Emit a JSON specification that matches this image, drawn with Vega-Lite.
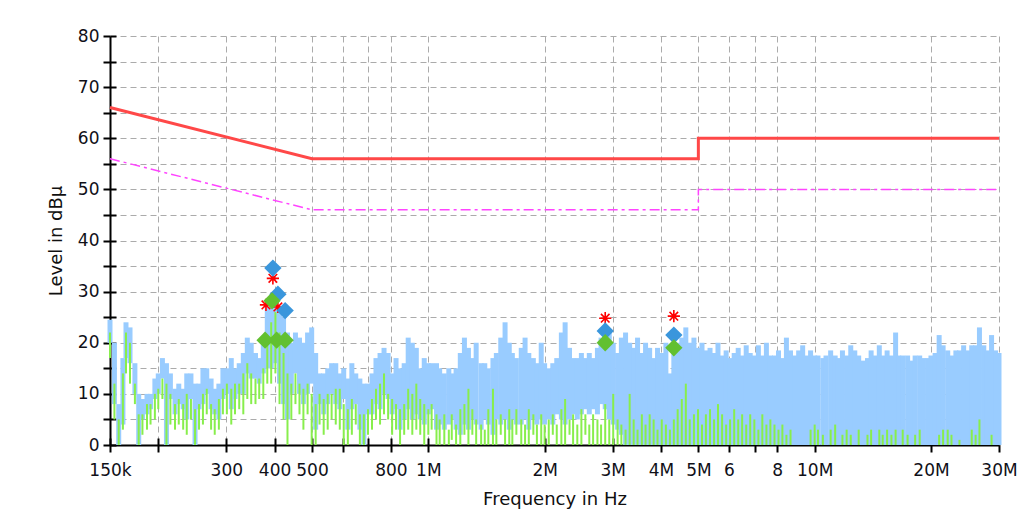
{
  "$schema": "https://vega.github.io/schema/vega-lite/v6.json",
  "autosize": {"type": "none"},
  "width": 889,
  "height": 409,
  "padding": {"left": 110, "top": 36, "right": 32, "bottom": 78},
  "background": "white",
  "config": {
    "view": {"stroke": null},
    "font": "DejaVu Sans",
    "axis": {
      "domainColor": "#000000", "domainWidth": 2,
      "tickColor": "#000000", "tickWidth": 2, "tickSize": 7,
      "gridColor": "#ababab", "gridDash": [6, 4], "gridWidth": 1,
      "labelFont": "DejaVu Sans", "labelFontSize": 17, "labelColor": "#101018",
      "titleFont": "DejaVu Sans", "titleFontSize": 18, "titleFontWeight": "normal", "titleColor": "#101010",
      "labelOverlap": false
    }
  },
  "resolve": {"axis": {"x": "independent", "y": "independent"}},
  "datasets": {
    "spec": [
      {"f":150,"pl":20,"ph":24.5,"al":17,"ah":22},
      {"f":154,"pl":8,"ph":20,"al":5,"ah":12},
      {"f":158,"pl":0,"ph":8,"al":0,"ah":5},
      {"f":162,"pl":4,"ph":17,"al":3,"ah":14},
      {"f":165,"pl":17,"ph":24,"al":14,"ah":22},
      {"f":169,"pl":16,"ph":23,"al":12,"ah":20},
      {"f":174,"pl":10,"ph":16,"al":8,"ah":12},
      {"f":178,"pl":0,"ph":10,"al":0,"ah":6},
      {"f":182,"pl":5,"ph":9,"al":2,"ah":6},
      {"f":187,"pl":6,"ph":10,"al":3,"ah":8},
      {"f":191,"pl":7,"ph":10,"al":4,"ah":8},
      {"f":196,"pl":9,"ph":13,"al":5,"ah":10},
      {"f":200,"pl":10,"ph":14,"al":7,"ah":11},
      {"f":205,"pl":13,"ph":17,"al":9,"ah":13},
      {"f":210,"pl":0,"ph":16,"al":0,"ah":12},
      {"f":215,"pl":9,"ph":14,"al":4,"ah":10},
      {"f":221,"pl":6,"ph":11,"al":3,"ah":8},
      {"f":226,"pl":8,"ph":12,"al":4,"ah":9},
      {"f":232,"pl":7,"ph":11,"al":3,"ah":8},
      {"f":237,"pl":5,"ph":14,"al":2,"ah":10},
      {"f":243,"pl":9,"ph":14,"al":5,"ah":9},
      {"f":249,"pl":0,"ph":12,"al":0,"ah":7},
      {"f":255,"pl":7,"ph":12,"al":3,"ah":8},
      {"f":261,"pl":8,"ph":15,"al":4,"ah":10},
      {"f":267,"pl":10,"ph":15,"al":6,"ah":11},
      {"f":274,"pl":7,"ph":13,"al":3,"ah":8},
      {"f":280,"pl":6,"ph":11,"al":2,"ah":7},
      {"f":287,"pl":5,"ph":12,"al":3,"ah":9},
      {"f":294,"pl":9,"ph":15,"al":6,"ah":11},
      {"f":301,"pl":10,"ph":15,"al":6,"ah":12},
      {"f":309,"pl":7,"ph":17,"al":4,"ah":11},
      {"f":316,"pl":9,"ph":15,"al":6,"ah":12},
      {"f":324,"pl":10,"ph":16,"al":7,"ah":12},
      {"f":332,"pl":10,"ph":18,"al":6,"ah":14},
      {"f":340,"pl":14,"ph":21,"al":9,"ah":16},
      {"f":348,"pl":13,"ph":20,"al":8,"ah":14},
      {"f":357,"pl":13,"ph":18,"al":8,"ah":13},
      {"f":365,"pl":12,"ph":17,"al":9,"ah":13},
      {"f":374,"pl":14,"ph":21,"al":9,"ah":15},
      {"f":383,"pl":15,"ph":27,"al":12,"ah":20},
      {"f":392,"pl":15,"ph":28,"al":12,"ah":24},
      {"f":402,"pl":16,"ph":28,"al":14,"ah":26},
      {"f":412,"pl":12,"ph":27,"al":8,"ah":22},
      {"f":422,"pl":8,"ph":25,"al":5,"ah":18},
      {"f":432,"pl":5,"ph":22,"al":0,"ah":14},
      {"f":442,"pl":10,"ph":20,"al":5,"ah":12},
      {"f":453,"pl":14,"ph":22,"al":8,"ah":14},
      {"f":464,"pl":10,"ph":21,"al":6,"ah":12},
      {"f":475,"pl":8,"ph":20,"al":3,"ah":11},
      {"f":487,"pl":10,"ph":22,"al":6,"ah":12},
      {"f":499,"pl":12,"ph":23,"al":0,"ah":10},
      {"f":511,"pl":3,"ph":18,"al":0,"ah":8},
      {"f":523,"pl":8,"ph":14,"al":4,"ah":10},
      {"f":536,"pl":6,"ph":14,"al":2,"ah":9},
      {"f":549,"pl":8,"ph":15,"al":3,"ah":10},
      {"f":562,"pl":10,"ph":16,"al":5,"ah":10},
      {"f":576,"pl":8,"ph":16,"al":4,"ah":11},
      {"f":590,"pl":7,"ph":14,"al":3,"ah":11},
      {"f":604,"pl":9,"ph":15,"al":0,"ah":8},
      {"f":619,"pl":3,"ph":13,"al":0,"ah":7},
      {"f":634,"pl":7,"ph":16,"al":2,"ah":9},
      {"f":649,"pl":8,"ph":14,"al":4,"ah":8},
      {"f":665,"pl":3,"ph":13,"al":0,"ah":6},
      {"f":681,"pl":0,"ph":12,"al":0,"ah":6},
      {"f":698,"pl":6,"ph":12,"al":2,"ah":7},
      {"f":715,"pl":6,"ph":14,"al":3,"ah":9},
      {"f":732,"pl":8,"ph":17,"al":5,"ah":11},
      {"f":750,"pl":7,"ph":18,"al":4,"ah":12},
      {"f":768,"pl":10,"ph":19,"al":6,"ah":14},
      {"f":787,"pl":9,"ph":18,"al":5,"ah":10},
      {"f":806,"pl":6,"ph":14,"al":2,"ah":9},
      {"f":825,"pl":7,"ph":17,"al":3,"ah":8},
      {"f":845,"pl":3,"ph":15,"al":0,"ah":7},
      {"f":866,"pl":5,"ph":16,"al":2,"ah":8},
      {"f":887,"pl":7,"ph":21,"al":3,"ah":11},
      {"f":909,"pl":5,"ph":20,"al":2,"ah":10},
      {"f":931,"pl":6,"ph":19,"al":3,"ah":12},
      {"f":953,"pl":5,"ph":15,"al":2,"ah":9},
      {"f":976,"pl":4,"ph":17,"al":0,"ah":8},
      {"f":1000,"pl":6,"ph":16,"al":2,"ah":7},
      {"f":1020,"pl":7,"ph":16,"al":3,"ah":8},
      {"f":1050,"pl":3,"ph":16,"al":0,"ah":6},
      {"f":1070,"pl":4,"ph":15,"al":0,"ah":5},
      {"f":1100,"pl":3,"ph":14,"al":0,"ah":6},
      {"f":1130,"pl":4,"ph":15,"al":0,"ah":3},
      {"f":1150,"pl":5,"ph":14,"al":1,"ah":6},
      {"f":1180,"pl":3,"ph":15,"al":0,"ah":4},
      {"f":1210,"pl":2,"ph":18,"al":0,"ah":7},
      {"f":1240,"pl":4,"ph":21,"al":2,"ah":8},
      {"f":1270,"pl":3,"ph":19,"al":0,"ah":11},
      {"f":1300,"pl":5,"ph":17,"al":2,"ah":7},
      {"f":1330,"pl":4,"ph":20,"al":0,"ah":5},
      {"f":1370,"pl":3,"ph":16,"al":0,"ah":4},
      {"f":1400,"pl":5,"ph":16,"al":0,"ah":3},
      {"f":1430,"pl":4,"ph":15,"al":0,"ah":7},
      {"f":1470,"pl":2,"ph":17,"al":0,"ah":11},
      {"f":1500,"pl":5,"ph":18,"al":0,"ah":5},
      {"f":1540,"pl":4,"ph":21,"al":2,"ah":6},
      {"f":1580,"pl":5,"ph":24,"al":0,"ah":5},
      {"f":1620,"pl":3,"ph":20,"al":0,"ah":7},
      {"f":1650,"pl":5,"ph":18,"al":0,"ah":5},
      {"f":1690,"pl":4,"ph":17,"al":2,"ah":7},
      {"f":1740,"pl":4,"ph":19,"al":0,"ah":5},
      {"f":1780,"pl":5,"ph":21,"al":0,"ah":4},
      {"f":1820,"pl":3,"ph":18,"al":0,"ah":7},
      {"f":1870,"pl":5,"ph":17,"al":2,"ah":6},
      {"f":1910,"pl":4,"ph":16,"al":0,"ah":4},
      {"f":1960,"pl":5,"ph":20,"al":0,"ah":6},
      {"f":2000,"pl":4,"ph":16,"al":0,"ah":4},
      {"f":2050,"pl":5,"ph":15,"al":0,"ah":5},
      {"f":2100,"pl":4,"ph":16,"al":2,"ah":6},
      {"f":2150,"pl":6,"ph":17,"al":0,"ah":4},
      {"f":2210,"pl":5,"ph":22,"al":0,"ah":7},
      {"f":2260,"pl":4,"ph":24,"al":0,"ah":9},
      {"f":2320,"pl":5,"ph":19,"al":2,"ah":5},
      {"f":2370,"pl":6,"ph":17,"al":0,"ah":6},
      {"f":2430,"pl":5,"ph":17,"al":0,"ah":4},
      {"f":2490,"pl":6,"ph":18,"al":0,"ah":7},
      {"f":2550,"pl":7,"ph":17,"al":2,"ah":6},
      {"f":2610,"pl":6,"ph":18,"al":0,"ah":4},
      {"f":2670,"pl":7,"ph":17,"al":0,"ah":6},
      {"f":2740,"pl":6,"ph":19,"al":0,"ah":5},
      {"f":2800,"pl":8,"ph":21,"al":0,"ah":4},
      {"f":2870,"pl":7,"ph":22,"al":0,"ah":8},
      {"f":2940,"pl":5,"ph":22,"al":0,"ah":5},
      {"f":3010,"pl":4,"ph":20,"al":0,"ah":10},
      {"f":3090,"pl":3,"ph":18,"al":0,"ah":5},
      {"f":3160,"pl":2,"ph":21,"al":0,"ah":4},
      {"f":3240,"pl":0,"ph":22,"al":0,"ah":3},
      {"f":3320,"pl":0,"ph":20,"al":0,"ah":10},
      {"f":3400,"pl":0,"ph":19,"al":0,"ah":5},
      {"f":3480,"pl":0,"ph":21,"al":0,"ah":3},
      {"f":3570,"pl":0,"ph":18,"al":0,"ah":6},
      {"f":3650,"pl":0,"ph":20,"al":0,"ah":4},
      {"f":3740,"pl":0,"ph":19,"al":0,"ah":6},
      {"f":3830,"pl":0,"ph":17,"al":0,"ah":5},
      {"f":3920,"pl":0,"ph":19,"al":0,"ah":3},
      {"f":4020,"pl":0,"ph":18,"al":0,"ah":5},
      {"f":4120,"pl":0,"ph":20,"al":0,"ah":4},
      {"f":4220,"pl":0,"ph":14,"al":0,"ah":3},
      {"f":4320,"pl":0,"ph":19,"al":0,"ah":5},
      {"f":4420,"pl":0,"ph":20,"al":0,"ah":7},
      {"f":4530,"pl":0,"ph":21,"al":0,"ah":9},
      {"f":4640,"pl":0,"ph":23,"al":0,"ah":12},
      {"f":4750,"pl":0,"ph":20,"al":0,"ah":5},
      {"f":4870,"pl":0,"ph":21,"al":0,"ah":6},
      {"f":4990,"pl":0,"ph":19,"al":0,"ah":7},
      {"f":5110,"pl":0,"ph":20,"al":0,"ah":4},
      {"f":5230,"pl":0,"ph":18.5,"al":0,"ah":6},
      {"f":5360,"pl":0,"ph":19,"al":0,"ah":7},
      {"f":5490,"pl":0,"ph":18,"al":0,"ah":5},
      {"f":5620,"pl":0,"ph":20,"al":0,"ah":8},
      {"f":5760,"pl":0,"ph":17.5,"al":0,"ah":6},
      {"f":5900,"pl":0,"ph":18.5,"al":0,"ah":4},
      {"f":6040,"pl":0,"ph":17,"al":0,"ah":5},
      {"f":6190,"pl":0,"ph":18,"al":0,"ah":7},
      {"f":6340,"pl":0,"ph":19,"al":0,"ah":5},
      {"f":6490,"pl":0,"ph":17.5,"al":0,"ah":6},
      {"f":6650,"pl":0,"ph":19.5,"al":0,"ah":4},
      {"f":6810,"pl":0,"ph":18,"al":0,"ah":6},
      {"f":6980,"pl":0,"ph":17.5,"al":0,"ah":5},
      {"f":7150,"pl":0,"ph":19.5,"al":0,"ah":3},
      {"f":7320,"pl":0,"ph":17.5,"al":0,"ah":6},
      {"f":7500,"pl":0,"ph":20,"al":0,"ah":4},
      {"f":7680,"pl":0,"ph":17.5,"al":0,"ah":5},
      {"f":7870,"pl":0,"ph":17.5,"al":0,"ah":4},
      {"f":8060,"pl":0,"ph":18.5,"al":0,"ah":3},
      {"f":8250,"pl":0,"ph":17,"al":0,"ah":4},
      {"f":8450,"pl":0,"ph":21,"al":0,"ah":2},
      {"f":8660,"pl":0,"ph":18.5,"al":0,"ah":3},
      {"f":8870,"pl":0,"ph":17.5,"al":0,"ah":0},
      {"f":9090,"pl":0,"ph":18.5,"al":0,"ah":0},
      {"f":9310,"pl":0,"ph":19.5,"al":0,"ah":0},
      {"f":9530,"pl":0,"ph":17.5,"al":0,"ah":0},
      {"f":9760,"pl":0,"ph":18.5,"al":0,"ah":3},
      {"f":10000,"pl":0,"ph":17.5,"al":0,"ah":4},
      {"f":10200,"pl":0,"ph":17.5,"al":0,"ah":3},
      {"f":10500,"pl":0,"ph":17,"al":0,"ah":2},
      {"f":10700,"pl":0,"ph":17.5,"al":0,"ah":0},
      {"f":11000,"pl":0,"ph":18.5,"al":0,"ah":3},
      {"f":11300,"pl":0,"ph":17.5,"al":0,"ah":4},
      {"f":11500,"pl":0,"ph":17,"al":0,"ah":0},
      {"f":11800,"pl":0,"ph":18.5,"al":0,"ah":2},
      {"f":12100,"pl":0,"ph":17.5,"al":0,"ah":3},
      {"f":12400,"pl":0,"ph":19.5,"al":0,"ah":2},
      {"f":12700,"pl":0,"ph":18.5,"al":0,"ah":0},
      {"f":13000,"pl":0,"ph":17.5,"al":0,"ah":3},
      {"f":13300,"pl":0,"ph":16.5,"al":0,"ah":0},
      {"f":13700,"pl":0,"ph":17,"al":0,"ah":2},
      {"f":14000,"pl":0,"ph":18.5,"al":0,"ah":3},
      {"f":14300,"pl":0,"ph":17.5,"al":0,"ah":0},
      {"f":14700,"pl":0,"ph":19.5,"al":0,"ah":3},
      {"f":15000,"pl":0,"ph":17.5,"al":0,"ah":2},
      {"f":15400,"pl":0,"ph":18.5,"al":0,"ah":3},
      {"f":15800,"pl":0,"ph":17.5,"al":0,"ah":2},
      {"f":16200,"pl":0,"ph":22,"al":0,"ah":3},
      {"f":16500,"pl":0,"ph":17.5,"al":0,"ah":0},
      {"f":16900,"pl":0,"ph":17.5,"al":0,"ah":3},
      {"f":17400,"pl":0,"ph":17.5,"al":0,"ah":2},
      {"f":17800,"pl":0,"ph":16.5,"al":0,"ah":0},
      {"f":18200,"pl":0,"ph":17.5,"al":0,"ah":2},
      {"f":18700,"pl":0,"ph":17.5,"al":0,"ah":3},
      {"f":19100,"pl":0,"ph":17,"al":0,"ah":0},
      {"f":19600,"pl":0,"ph":17,"al":0,"ah":0},
      {"f":20000,"pl":0,"ph":17.5,"al":0,"ah":0},
      {"f":20500,"pl":0,"ph":18,"al":0,"ah":0},
      {"f":21000,"pl":0,"ph":21.5,"al":0,"ah":2},
      {"f":21500,"pl":0,"ph":19.5,"al":0,"ah":3},
      {"f":22100,"pl":0,"ph":18.5,"al":0,"ah":3},
      {"f":22600,"pl":0,"ph":17.5,"al":0,"ah":2},
      {"f":23200,"pl":0,"ph":18.5,"al":0,"ah":0},
      {"f":23700,"pl":0,"ph":18.5,"al":0,"ah":1},
      {"f":24300,"pl":0,"ph":19.5,"al":0,"ah":0},
      {"f":24900,"pl":0,"ph":18.5,"al":0,"ah":0},
      {"f":25500,"pl":0,"ph":19.5,"al":0,"ah":3},
      {"f":26100,"pl":0,"ph":19.5,"al":0,"ah":2},
      {"f":26700,"pl":0,"ph":23,"al":0,"ah":5},
      {"f":27400,"pl":0,"ph":19.5,"al":0,"ah":0},
      {"f":28000,"pl":0,"ph":18.5,"al":0,"ah":0},
      {"f":28700,"pl":0,"ph":21.5,"al":0,"ah":2},
      {"f":29400,"pl":0,"ph":18.5,"al":0,"ah":0},
      {"f":30000,"pl":0,"ph":18,"al":0,"ah":0}
    ],
    "qp": [
      {"s":0,"f":150,"v":66},
      {"s":1,"f":500,"v":56},
      {"s":2,"f":5000,"v":56},
      {"s":3,"f":5000,"v":60},
      {"s":4,"f":30000,"v":60}
    ],
    "av": [
      {"s":0,"f":150,"v":56},
      {"s":1,"f":500,"v":46},
      {"s":2,"f":5000,"v":46},
      {"s":3,"f":5000,"v":50},
      {"s":4,"f":30000,"v":50}
    ],
    "marks": [
      {"kind":"crit","f":380,"v":27.4},
      {"kind":"crit","f":408,"v":27},
      {"kind":"crit","f":396,"v":32.6},
      {"kind":"crit","f":2870,"v":24.8},
      {"kind":"crit","f":4320,"v":25.2},
      {"kind":"qp","f":396,"v":34.6},
      {"kind":"qp","f":408,"v":29.5},
      {"kind":"qp","f":426,"v":26.3},
      {"kind":"qp","f":2870,"v":22.3},
      {"kind":"qp","f":4320,"v":21.5},
      {"kind":"av","f":378,"v":20.5},
      {"kind":"av","f":405,"v":20.5},
      {"kind":"av","f":426,"v":20.5},
      {"kind":"av","f":394,"v":28.2},
      {"kind":"av","f":2870,"v":20},
      {"kind":"av","f":4320,"v":19}
    ]
  },
  "encoding": {
    "x": {
      "field": "f", "type": "quantitative",
      "scale": {"type": "log", "domain": [150, 30000], "nice": false},
      "axis": null
    },
    "y": {
      "type": "quantitative",
      "scale": {"domain": [0, 80], "nice": false},
      "axis": null
    }
  },
  "layer": [
    {
      "data": {"name": "spec"},
      "mark": {"type": "rule", "color": "#99ccff", "strokeWidth": 5},
      "encoding": {
        "x": {
          "field": "f", "type": "quantitative",
          "scale": {"type": "log", "domain": [150, 30000], "nice": false},
          "axis": {
            "title": "Frequency in Hz",
            "values": [150, 200, 300, 400, 500, 600, 700, 800, 1000, 2000, 3000, 4000, 5000, 6000, 7000, 8000, 10000, 20000, 30000],
            "labelExpr": "datum.value==150?'150k':datum.value==300?'300':datum.value==400?'400':datum.value==500?'500':datum.value==800?'800':datum.value==1000?'1M':datum.value==2000?'2M':datum.value==3000?'3M':datum.value==4000?'4M':datum.value==5000?'5M':datum.value==6000?'6':datum.value==8000?'8':datum.value==10000?'10M':datum.value==20000?'20M':datum.value==30000?'30M':''",
            "labelPadding": 10,
            "titlePadding": 12,
            "labelFlush": false
          }
        },
        "y": {
          "field": "pl", "type": "quantitative",
          "scale": {"domain": [0, 80], "nice": false},
          "axis": {
            "title": "Level in dBµ",
            "values": [0, 5, 10, 15, 20, 25, 30, 35, 40, 45, 50, 55, 60, 65, 70, 75, 80],
            "labelExpr": "datum.value % 10 == 0 ? datum.value : ''",
            "labelPadding": 4,
            "titlePadding": 12
          }
        },
        "y2": {"field": "ph"}
      }
    },
    {
      "data": {"name": "spec"},
      "mark": {"type": "rule", "color": "#88ee4c", "strokeWidth": 2},
      "encoding": {
        "x": {
          "field": "f", "type": "quantitative",
          "scale": {"type": "log", "domain": [150, 30000], "nice": false},
          "axis": {
            "orient": "bottom", "title": null, "labels": false, "domain": false, "grid": false,
            "tickSize": -7,
            "values": [150, 200, 300, 400, 500, 600, 700, 800, 1000, 2000, 3000, 4000, 5000, 6000, 7000, 8000, 10000, 20000, 30000]
          }
        },
        "y": {
          "field": "al", "type": "quantitative",
          "scale": {"domain": [0, 80], "nice": false},
          "axis": {
            "orient": "left", "title": null, "labels": false, "domain": false, "grid": false,
            "tickSize": -6,
            "values": [0, 5, 10, 15, 20, 25, 30, 35, 40, 45, 50, 55, 60, 65, 70, 75, 80]
          }
        },
        "y2": {"field": "ah"}
      }
    },
    {
      "data": {"name": "qp"},
      "mark": {"type": "line", "color": "#ff4848", "strokeWidth": 3},
      "encoding": {"y": {"field": "v", "type": "quantitative", "scale": {"domain": [0, 80], "nice": false}, "axis": null}, "order": {"field": "s"}}
    },
    {
      "data": {"name": "av"},
      "mark": {"type": "line", "color": "#ff44ff", "strokeWidth": 1.5, "strokeDash": [10, 4, 3, 4]},
      "encoding": {"y": {"field": "v", "type": "quantitative", "scale": {"domain": [0, 80], "nice": false}, "axis": null}, "order": {"field": "s"}}
    },
    {
      "data": {"name": "marks"},
      "transform": [{"filter": "datum.kind == 'crit'"}],
      "mark": {"type": "point", "shape": "M0,-1L0,1M-1,0L1,0M-0.7,-0.7L0.7,0.7M-0.7,0.7L0.7,-0.7", "filled": false, "stroke": "#ff0000", "strokeWidth": 1.6, "size": 150, "opacity": 1},
      "encoding": {"y": {"field": "v", "type": "quantitative", "scale": {"domain": [0, 80], "nice": false}, "axis": null}}
    },
    {
      "data": {"name": "marks"},
      "transform": [{"filter": "datum.kind == 'qp'"}],
      "mark": {"type": "point", "shape": "diamond", "filled": true, "color": "#3a96dc", "size": 300, "opacity": 1},
      "encoding": {"y": {"field": "v", "type": "quantitative", "scale": {"domain": [0, 80], "nice": false}, "axis": null}}
    },
    {
      "data": {"name": "marks"},
      "transform": [{"filter": "datum.kind == 'av'"}],
      "mark": {"type": "point", "shape": "diamond", "filled": true, "color": "#62c030", "size": 300, "opacity": 1},
      "encoding": {"y": {"field": "v", "type": "quantitative", "scale": {"domain": [0, 80], "nice": false}, "axis": null}}
    }
  ]
}
